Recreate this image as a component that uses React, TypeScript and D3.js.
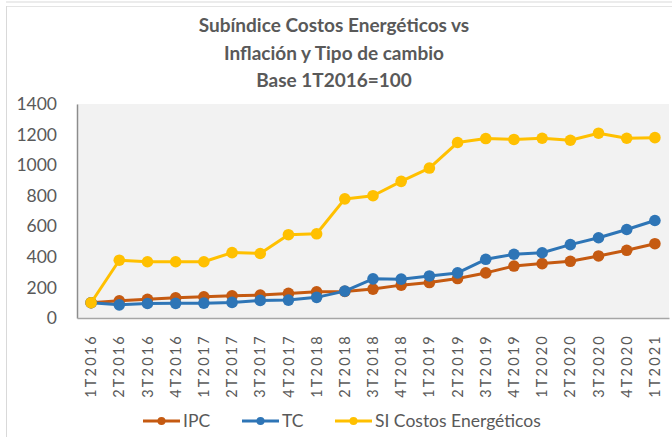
import { useEffect, useRef } from 'react'
import * as d3 from 'd3'

const quarters = ['1T2016', '2T2016', '3T2016', '4T2016', '1T2017', '2T2017', '3T2017', '4T2017', '1T2018', '2T2018', '3T2018', '4T2018', '1T2019', '2T2019', '3T2019', '4T2019', '1T2020', '2T2020', '3T2020', '4T2020', '1T2021']
const ipc = [100, 113, 122, 132, 139, 145, 150, 161, 171, 174, 189, 215, 232, 258, 295, 340, 356, 371, 406, 443, 486]
const tc = [100, 86, 95, 96, 97, 102, 115, 117, 135, 176, 256, 254, 275, 295, 384, 417, 427, 480, 525, 579, 638]
const siCostos = [100, 378, 368, 368, 368, 428, 422, 545, 551, 779, 800, 894, 981, 1148, 1174, 1168, 1176, 1163, 1209, 1176, 1180]
const yTicks = [0, 200, 400, 600, 800, 1000, 1200, 1400]
const titleLines = ['Subíndice Costos Energéticos vs', 'Inflación y Tipo de cambio', 'Base 1T2016=100']

const seriesList = [
  { name: 'IPC', values: ipc, color: '#C55A11' },
  { name: 'TC', values: tc, color: '#2E75B6' },
  { name: 'SI Costos Energéticos', values: siCostos, color: '#FFC000' },
]

const W = 672
const H = 437
const FONT = 'Lato, "Open Sans", sans-serif'

const App = () => {
  const ref = useRef<SVGSVGElement>(null)

  useEffect(() => {
    if (!ref.current) return
    const svg = d3.select(ref.current)
    svg.selectAll('*').remove()

    const left = 77, right = 669, top = 104, bottom = 318

    // chart frame (only top and left edges visible)
    svg.append('line').attr('x1', 6).attr('x2', W).attr('y1', 2).attr('y2', 2).attr('stroke', '#d9d9d9')
    svg.append('line').attr('x1', 6).attr('x2', W).attr('y1', 6.5).attr('y2', 6.5).attr('stroke', '#e4e4e4')
    svg.append('line').attr('x1', 6.5).attr('x2', 6.5).attr('y1', 6).attr('y2', H).attr('stroke', '#d9d9d9')

    svg.append('g')
      .selectAll('text')
      .data(titleLines)
      .enter().append('text')
      .attr('x', 334)
      .attr('y', (d, i) => 32 + i * 27.5)
      .attr('text-anchor', 'middle')
      .style('font-family', FONT)
      .style('font-weight', 'bold')
      .style('font-size', '19px')
      .attr('fill', '#595959')
      .text(d => d)

    const x = d3.scaleBand().domain(quarters).range([left, right])
    const y = d3.scaleLinear().domain([0, 1400]).range([bottom, top])

    svg.append('rect')
      .attr('x', left).attr('y', top)
      .attr('width', right - left).attr('height', bottom - top)
      .attr('fill', '#f2f2f2')

    const yAxis = svg.append('g')
      .attr('transform', `translate(${left},0)`)
      .call(d3.axisLeft(y).tickValues(yTicks).tickFormat(d3.format('d')).tickSize(0).tickPadding(20))
    yAxis.select('.domain').attr('stroke', '#8c8c8c').attr('stroke-width', 1.5)
    yAxis.selectAll('text')
      .style('font-family', FONT)
      .style('font-size', '17.5px')
      .attr('fill', '#595959')

    const xAxis = svg.append('g')
      .attr('transform', `translate(0,${bottom})`)
      .call(d3.axisBottom(x).tickSize(0).tickPadding(0))
    xAxis.select('.domain').attr('stroke', '#a6a6a6').attr('stroke-width', 1.5)
    xAxis.selectAll('text')
      .style('font-family', FONT)
      .style('font-size', '14.5px')
      .style('letter-spacing', '2.2px')
      .attr('fill', '#595959')
      .attr('text-anchor', 'end')
      .attr('transform', 'rotate(-90)')
      .attr('x', -16)
      .attr('y', 0)
      .attr('dy', '0.35em')

    const cx = (d: string) => (x(d) as number) + x.bandwidth() / 2
    const line = d3.line<number>()
      .x((d, i) => cx(quarters[i]))
      .y(d => y(d))

    seriesList.forEach(s => {
      const g = svg.append('g')
      g.append('path')
        .datum(s.values)
        .attr('d', line)
        .attr('fill', 'none')
        .attr('stroke', s.color)
        .attr('stroke-width', 3)
        .attr('stroke-linejoin', 'round')
      g.selectAll('circle')
        .data(s.values)
        .enter().append('circle')
        .attr('cx', (d, i) => cx(quarters[i]))
        .attr('cy', d => y(d))
        .attr('r', 5.8)
        .attr('fill', s.color)
    })

    // legend
    const legendX = [143, 242, 335]
    const legend = svg.append('g')
    seriesList.forEach((s, i) => {
      const g = legend.append('g').attr('transform', `translate(${legendX[i]},421)`)
      g.append('line').attr('x1', 0).attr('x2', 37).attr('y1', 0).attr('y2', 0)
        .attr('stroke', s.color).attr('stroke-width', 3)
      g.append('circle').attr('cx', 18.5).attr('cy', 0).attr('r', 4).attr('fill', s.color)
      g.append('text')
        .attr('x', 40).attr('y', 0).attr('dy', '0.35em')
        .style('font-family', FONT)
        .style('font-size', '17.5px')
        .attr('fill', '#595959')
        .text(s.name)
    })
  }, [])

  return (
    <svg
      ref={ref}
      width={W}
      height={H}
      style={{ position: 'absolute', left: 0, top: 0, background: '#fff' }}
    />
  )
}

export default App
